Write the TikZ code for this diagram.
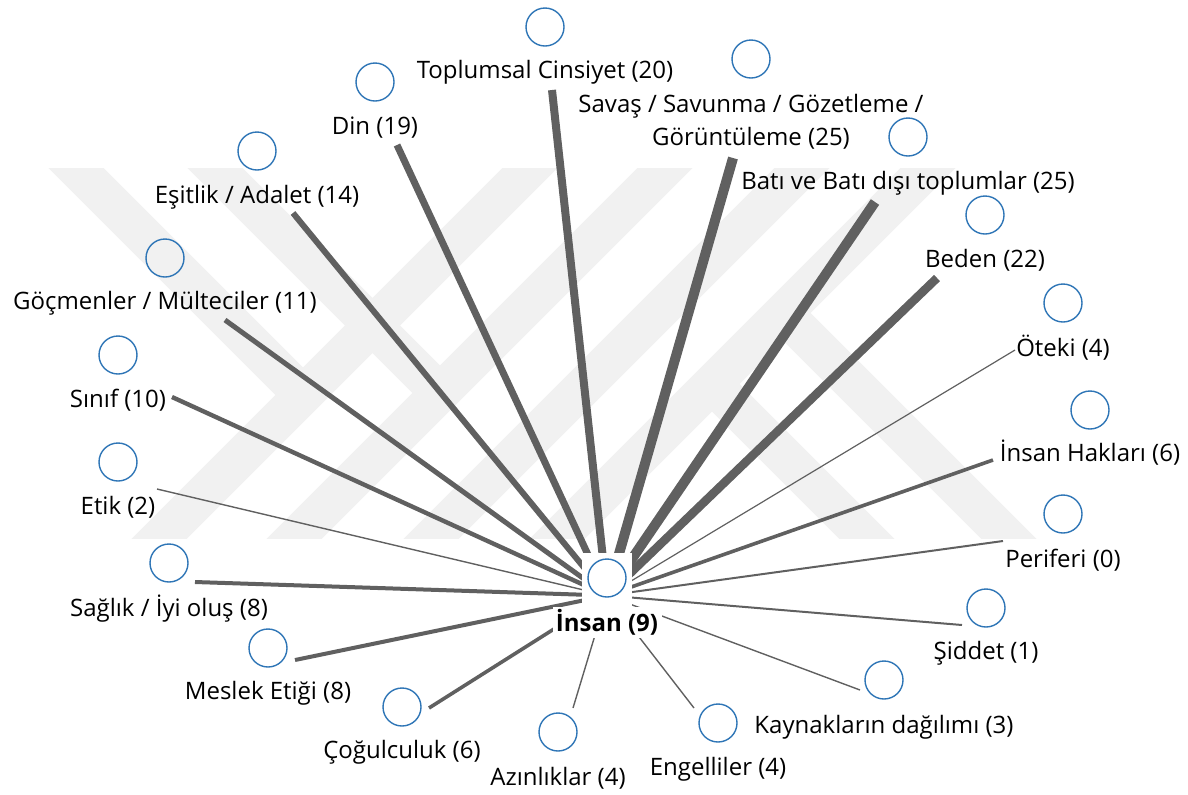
\documentclass[tikz,border=0pt]{standalone}
\usepackage{fontspec}
\setmainfont{Open Sans}
\usetikzlibrary{positioning}
\pgfdeclarelayer{bg}
\pgfsetlayers{bg,main}
\definecolor{edgegray}{RGB}{96,96,96}
\definecolor{vertexblue}{RGB}{46,117,182}
\definecolor{markgray}{RGB}{241,241,241}

\begin{document}
\begin{tikzpicture}[x=0.5pt,y=-0.5pt,
  vertex/.style={circle,draw=vertexblue,line width=0.7pt,minimum size=19pt,inner sep=0pt},
  topic/.style={font=\fontsize{12}{16.5}\selectfont,inner sep=0pt,align=center},
  link/.style={draw=edgegray,line width=#1},
  band/.style={draw=markgray,line width=19.5pt}]
  \useasboundingbox (0,0) rectangle (1188,794);

  % centre: white mask, circle and label
  \node[fill=white,minimum width=25pt,minimum height=42.5pt,inner sep=0pt] (insan) at (607,595.5) {};
  \node[vertex] (insan-c) at (607,578) {};
  \node[topic,font=\fontsize{12}{16.5}\selectfont\bfseries,fill=white,
        minimum width=54.5pt,minimum height=15.5pt] (insan-l) at (607,622.5) {İnsan (9)};

  % topics
  \node[vertex] (toplumsal) at (545,27) {};
  \node[topic] (toplumsal-l) at (545,72) {Toplumsal Cinsiyet (20)};
  \coordinate (toplumsal-e) at (552,90);

  \node[vertex] (din) at (375,82) {};
  \node[topic] (din-l) at (375,128) {Din (19)};
  \coordinate (din-e) at (397,145);

  \node[vertex] (esitlik) at (257,151) {};
  \node[topic] (esitlik-l) at (257,197) {Eşitlik / Adalet (14)};
  \coordinate (esitlik-e) at (293,213);

  \node[vertex] (gocmen) at (165,258) {};
  \node[topic] (gocmen-l) at (165,303) {Göçmenler / Mülteciler (11)};
  \coordinate (gocmen-e) at (225,320);

  \node[vertex] (sinif) at (118,355) {};
  \node[topic] (sinif-l) at (118,400) {Sınıf (10)};
  \coordinate (sinif-e) at (172,397);

  \node[vertex] (etik) at (118,462) {};
  \node[topic] (etik-l) at (118,507) {Etik (2)};
  \coordinate (etik-e) at (157,489);

  \node[vertex] (saglik) at (169,563) {};
  \node[topic] (saglik-l) at (169,609) {Sağlık / İyi oluş (8)};
  \coordinate (saglik-e) at (195,582);

  \node[vertex] (meslek) at (268,648) {};
  \node[topic] (meslek-l) at (268,693) {Meslek Etiği (8)};
  \coordinate (meslek-e) at (295,660);

  \node[vertex] (cogul) at (402,707) {};
  \node[topic] (cogul-l) at (402,752) {Çoğulculuk (6)};
  \coordinate (cogul-e) at (429,708);

  \node[vertex] (azinlik) at (558,732) {};
  \node[topic] (azinlik-l) at (558,778) {Azınlıklar (4)};
  \coordinate (azinlik-e) at (573,708);

  \node[vertex] (engelli) at (718,723) {};
  \node[topic] (engelli-l) at (718,769) {Engelliler (4)};
  \coordinate (engelli-e) at (694,708);

  \node[vertex] (kaynak) at (884,680) {};
  \node[topic] (kaynak-l) at (884,727) {Kaynakların dağılımı (3)};
  \coordinate (kaynak-e) at (860,690);

  \node[vertex] (siddet) at (986,608) {};
  \node[topic] (siddet-l) at (986,653) {Şiddet (1)};
  \coordinate (siddet-e) at (962,625);

  \node[vertex] (periferi) at (1063,514) {};
  \node[topic] (periferi-l) at (1063,560) {Periferi (0)};
  \coordinate (periferi-e) at (1003,541);

  \node[vertex] (haklar) at (1090,410) {};
  \node[topic] (haklar-l) at (1090,453) {İnsan Hakları (6)};
  \coordinate (haklar-e) at (993,460);

  \node[vertex] (oteki) at (1063,303) {};
  \node[topic] (oteki-l) at (1063,348) {Öteki (4)};
  \coordinate (oteki-e) at (1015,350);

  \node[vertex] (beden) at (985,215) {};
  \node[topic] (beden-l) at (985,260) {Beden (22)};
  \coordinate (beden-e) at (937,278);

  \node[vertex] (bati) at (908,137) {};
  \node[topic] (bati-l) at (908,183) {Batı ve Batı dışı toplumlar (25)};
  \coordinate (bati-e) at (875,202);

  \node[vertex] (savas) at (751,59) {};
  \node[topic] (savas-l) at (751,121.5) {Savaş / Savunma / Gözetleme /\\Görüntüleme (25)};
  \coordinate (savas-e) at (733,158);

  \begin{pgfonlayer}{bg}
    % watermark
    \begin{scope}
      \clip (45,168) rectangle (1160,538);
      \foreach \b in {160,295,432,558}
        \draw[band] (\b-20,558) -- (\b+390,148);
      \draw[band] (56,148) -- (303,395);
      \draw[band] (195,148) -- (440,393);
      \draw[band] (712,384) -- (886,558);
      \draw[band] (783,313) -- (1028,558);
    \end{scope}
    % links
    \draw[link=4pt] (insan.center) -- (toplumsal-e);
    \draw[link=3.5pt] (insan.center) -- (din-e);
    \draw[link=3pt] (insan.center) -- (esitlik-e);
    \draw[link=2.5pt] (insan.center) -- (gocmen-e);
    \draw[link=2.2pt] (insan.center) -- (sinif-e);
    \draw[link=0.7pt] (insan.center) -- (etik-e);
    \draw[link=2pt] (insan.center) -- (saglik-e);
    \draw[link=2pt] (insan.center) -- (meslek-e);
    \draw[link=1.8pt] (insan.center) -- (cogul-e);
    \draw[link=0.7pt] (insan.center) -- (azinlik-e);
    \draw[link=0.7pt] (insan.center) -- (engelli-e);
    \draw[link=0.7pt] (insan.center) -- (kaynak-e);
    \draw[link=1pt] (insan.center) -- (siddet-e);
    \draw[link=1pt] (insan.center) -- (periferi-e);
    \draw[link=1.8pt] (insan.center) -- (haklar-e);
    \draw[link=0.6pt] (insan.center) -- (oteki-e);
    \draw[link=4.3pt] (insan.center) -- (beden-e);
    \draw[link=5pt] (insan.center) -- (bati-e);
    \draw[link=5pt] (insan.center) -- (savas-e);
  \end{pgfonlayer}
\end{tikzpicture}
\end{document}
